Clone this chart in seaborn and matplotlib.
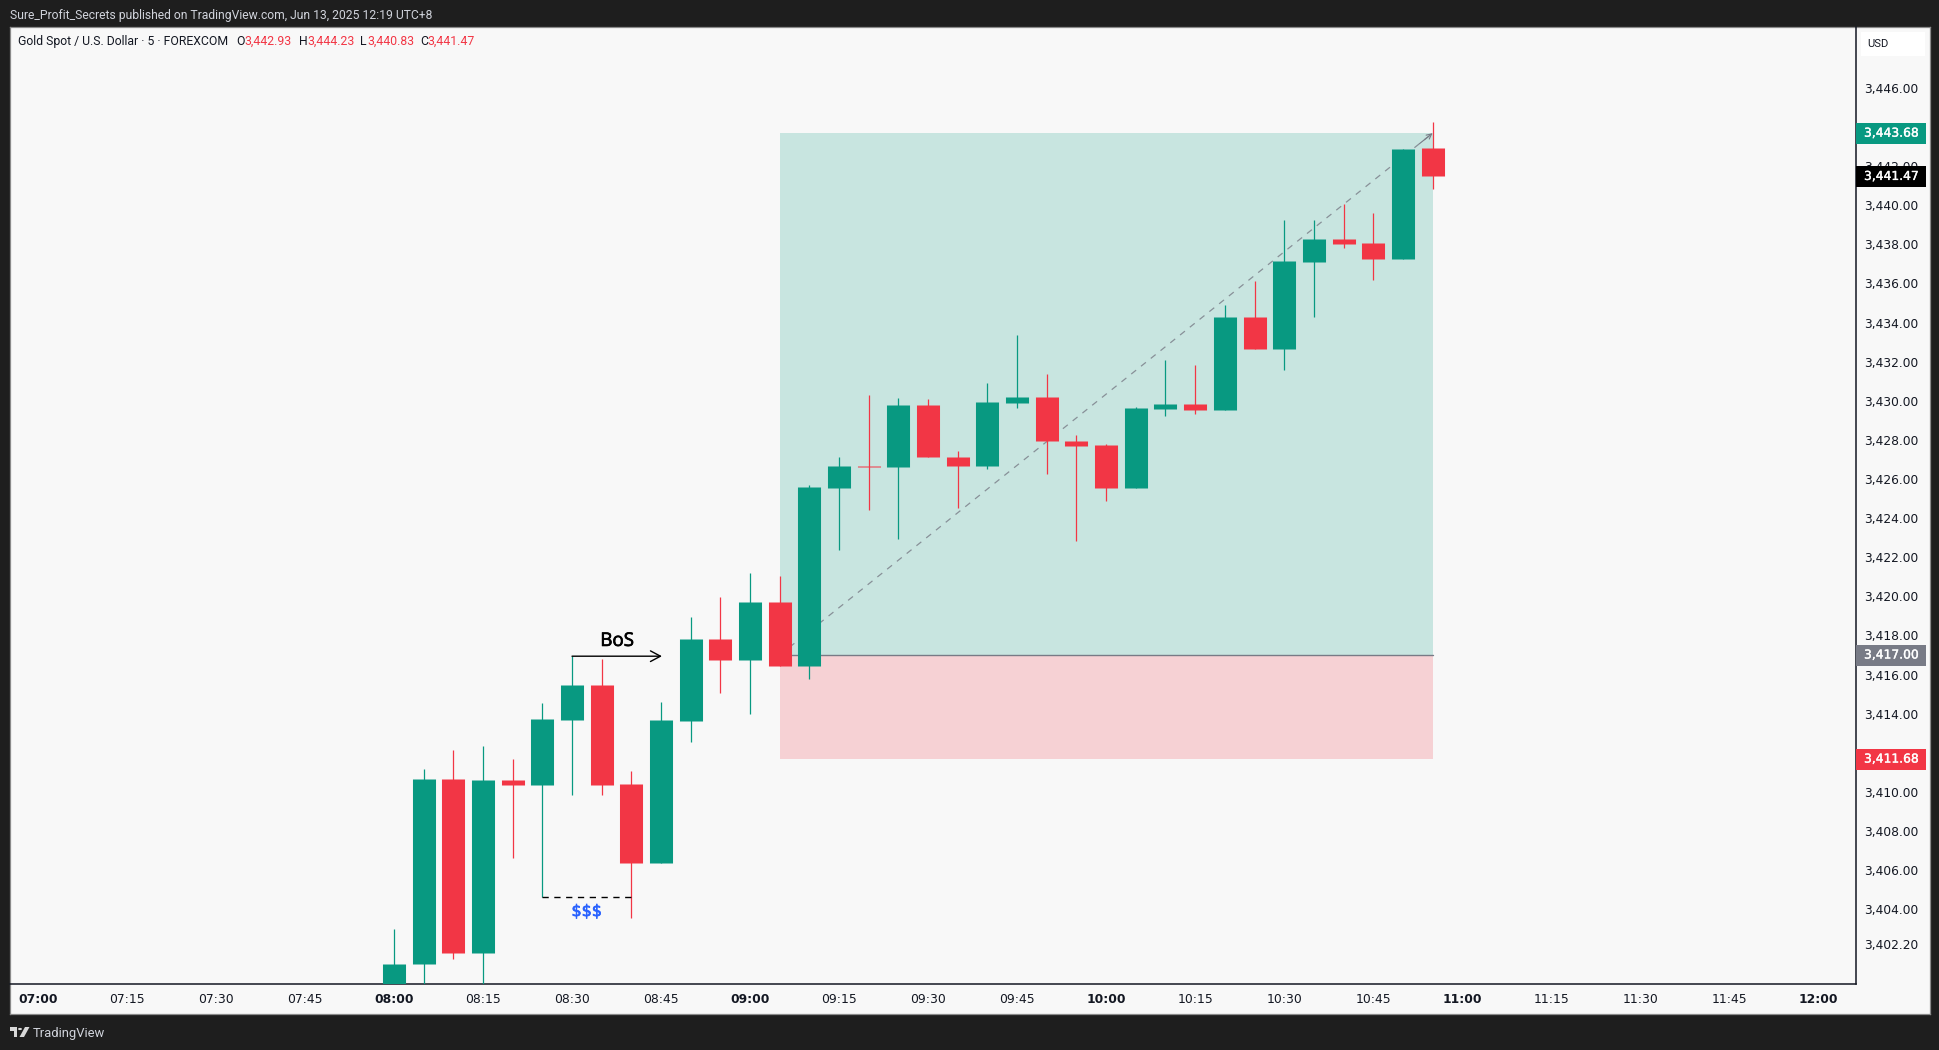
import numpy as np
import pandas as pd
import matplotlib
matplotlib.use('Agg')
import matplotlib.pyplot as plt
import matplotlib.patheffects as pe
from matplotlib.patches import Rectangle, FancyBboxPatch, Polygon, Circle
import seaborn as sns

sns.set_theme(style="white")
plt.rcParams['font.family'] = ['DejaVu Sans']

# candles, one per 5 minutes starting at 08:00
opens = [3399.60, 3401.18, 3410.67, 3401.79, 3410.62, 3410.38, 3413.70, 3415.48, 3410.41, 3406.39,
         3413.65, 3417.83, 3416.77, 3419.72, 3416.42, 3425.55, 3426.67, 3426.59, 3429.79, 3427.13,
         3426.64, 3429.91, 3430.20, 3427.95, 3427.75, 3425.52, 3429.59, 3429.84, 3429.55, 3434.29,
         3432.67, 3437.12, 3438.28, 3438.08, 3437.26, 3442.93]
highs = [3403.00, 3411.18, 3412.15, 3412.36, 3411.69, 3414.56, 3416.94, 3416.81, 3411.06, 3414.59,
         3418.95, 3419.98, 3421.20, 3421.02, 3425.70, 3427.13, 3430.30, 3430.13, 3430.10, 3427.44,
         3430.92, 3433.37, 3431.38, 3428.26, 3427.80, 3429.69, 3432.09, 3431.84, 3434.90, 3436.13,
         3439.25, 3439.25, 3440.07, 3439.61, 3442.89, 3444.23]
lows = [3399.40, 3400.00, 3401.47, 3400.00, 3406.60, 3404.62, 3409.82, 3409.82, 3403.53, 3406.39,
        3412.53, 3415.05, 3414.00, 3416.42, 3415.75, 3422.35, 3424.44, 3422.91, 3427.10, 3424.54,
        3426.49, 3429.61, 3426.23, 3422.81, 3424.90, 3425.52, 3429.20, 3429.33, 3429.55, 3432.67,
        3431.55, 3434.26, 3437.82, 3436.19, 3437.26, 3440.83]
closes = [3401.21, 3410.67, 3401.79, 3410.62, 3410.38, 3413.74, 3415.48, 3410.38, 3406.39, 3413.69,
          3417.83, 3416.77, 3419.72, 3416.42, 3425.60, 3426.67, 3426.62, 3429.79, 3427.10, 3426.64,
          3429.95, 3430.20, 3427.92, 3427.71, 3425.52, 3429.64, 3429.84, 3429.55, 3434.29, 3432.67,
          3437.15, 3438.28, 3438.03, 3437.26, 3442.89, 3441.47]

price_ticks = [3402.20] + [float(v) for v in range(3404, 3448, 2)]
time_positions = [-12, -9, -6, -3, 0, 3, 6, 9, 12, 15, 18, 21, 24, 27, 30, 33, 36, 39, 42, 45, 48]
time_labels = ['07:00', '07:15', '07:30', '07:45', '08:00', '08:15', '08:30', '08:45', '09:00', '09:15',
               '09:30', '09:45', '10:00', '10:15', '10:30', '10:45', '11:00', '11:15', '11:30', '11:45', '12:00']
bold_labels = ['07:00', '08:00', '09:00', '10:00', '11:00', '12:00']

target_price = 3443.68
entry_price = 3417.00
stop_price = 3411.68
last_price = 3441.47
box_start, box_end = 13, 35
bos_price, bos_start, bos_end = 3416.94, 6, 9
sweep_price, sweep_start, sweep_end = 3404.62, 5, 8

GREEN = '#089981'
RED = '#F23645'
BG = '#F8F8F8'
DARK = '#1E1E1E'
W, H = 1940, 1050


def px_rect(x0, y0, x1, y1):
    return [x0 / W, 1 - y1 / H, (x1 - x0) / W, (y1 - y0) / H]


def fig_text(x, y, s, **kw):
    kw.setdefault('va', 'center')
    fig.text(x / W, 1 - y / H, s, **kw)


df = pd.DataFrame({'open': opens, 'high': highs, 'low': lows, 'close': closes})
df['idx'] = range(len(df))
df['dir'] = np.where(df['close'] >= df['open'], 'up', 'down')
palette = {'up': GREEN, 'down': RED}

wicks = df.melt(id_vars=['idx', 'dir'], value_vars=['low', 'high'], value_name='price')
bodies = df.melt(id_vars=['idx', 'dir'], value_vars=['open', 'close'], value_name='price')

fig = plt.figure(figsize=(W / 100, H / 100), dpi=100, facecolor=DARK)

# light panel behind chart and both scales
panel = fig.add_axes(px_rect(10, 27, 1930, 1014), facecolor=BG)
panel.set_xticks([])
panel.set_yticks([])
for s in panel.spines.values():
    s.set_color('#8A8A8A')
    s.set_linewidth(0.9)

ax = fig.add_axes(px_rect(10, 27, 1856, 984), facecolor='none')
ax.set_xlim(-12.94, 49.27)
ax.set_ylim(3400.18, 3449.11)

# position box
ax.axhspan(entry_price, target_price, xmin=(box_start + 12.94) / 62.21, xmax=(box_end + 12.94) / 62.21,
           color=GREEN, alpha=0.2, lw=0, zorder=1)
ax.axhspan(stop_price, entry_price, xmin=(box_start + 12.94) / 62.21, xmax=(box_end + 12.94) / 62.21,
           color=RED, alpha=0.2, lw=0, zorder=1)
ax.plot([box_start, box_end], [entry_price, entry_price], color='#787B86', lw=1, zorder=1.5)
ax.plot([box_start, box_end], [entry_price, target_price], color='#787B86', lw=0.9, alpha=0.8,
        dashes=(5, 5), zorder=1.5)
ax.annotate('', xy=(box_end, target_price), zorder=1.5,
            xytext=(box_end - 0.02 * (box_end - box_start), target_price - 0.02 * (target_price - entry_price)),
            arrowprops=dict(arrowstyle='->,head_length=0.3,head_width=0.15', color='#787B86', lw=0.8,
                            shrinkA=0, shrinkB=0))

sns.lineplot(data=wicks, x='idx', y='price', hue='dir', units='idx', estimator=None, palette=palette,
             sort=False, legend=False, lw=0.9, solid_capstyle='butt', zorder=3, ax=ax)
sns.lineplot(data=bodies, x='idx', y='price', hue='dir', units='idx', estimator=None, palette=palette,
             sort=False, legend=False, lw=16.6, solid_capstyle='butt', zorder=3.5, ax=ax)

# annotations
ax.annotate('', xy=(bos_end + 0.03, bos_price), xytext=(bos_start, bos_price), zorder=4,
            arrowprops=dict(arrowstyle='->,head_length=0.6,head_width=0.32', color='black', lw=1,
                            shrinkA=0, shrinkB=0))
ax.text(7.52, 3417.72, 'BoS', ha='center', va='center', fontsize=13.5, color='black',
        family='Open Sans', zorder=5,
        path_effects=[pe.withStroke(linewidth=0.5, foreground='black')])
ax.plot([sweep_start, sweep_end], [sweep_price, sweep_price], color='black', lw=1, dashes=(4.5, 4), zorder=4)
ax.text(6.5, 3403.88, '$$$', ha='center', va='center', fontsize=11.5, color='#2962FF',
        zorder=5, parse_math=False,
        path_effects=[pe.withStroke(linewidth=0.5, foreground='#2962FF')])

ax.set_xlabel('')
ax.set_ylabel('')
ax.set_xticks(time_positions)
ax.set_xticklabels(time_labels, fontsize=8.9, color='#131722')
for lab in ax.get_xticklabels():
    if lab.get_text() in bold_labels:
        lab.set_fontweight('bold')
ax.tick_params(axis='x', length=0, pad=6.3)

# price labels sit right of the chart, tags cover them from the scale axes
ax.yaxis.tick_right()
ax.set_yticks(price_ticks)
ax.set_yticklabels([f'{p:,.2f}' for p in price_ticks], fontsize=8.85, color='#131722')
ax.tick_params(axis='y', length=0, pad=5.6)
for name in ['top', 'left']:
    ax.spines[name].set_visible(False)
for name in ['right', 'bottom']:
    ax.spines[name].set_color('#131722')
    ax.spines[name].set_linewidth(1.1)

scale = fig.add_axes(px_rect(1856, 27, 1930, 984), facecolor='none')
scale.set_xlim(0, 74)
scale.set_ylim(ax.get_ylim())
scale.axis('off')

tag_h = 21 / 19.56
for price, col in [(target_price, GREEN), (last_price, '#000000'),
                   (entry_price, '#787B86'), (stop_price, RED)]:
    scale.add_patch(Rectangle((0, price - tag_h / 2), 70, tag_h, facecolor=col, edgecolor='none', zorder=5))
    scale.text(8, price, f'{price:,.2f}', color='white', fontsize=8.85, va='center', ha='left', zorder=6,
               path_effects=[pe.withStroke(linewidth=0.25, foreground='white')])

# currency button
fig.add_artist(FancyBboxPatch((1861 / W, 1 - 56 / H), 64 / W, 24 / H, boxstyle='round,pad=0',
                              facecolor='white', edgecolor='white', lw=0, transform=fig.transFigure))
fig_text(1867, 44, 'USD', fontsize=8, color='#131722', family='Roboto')

# header and legend
fig_text(10, 15, 'Sure_Profit_Secrets published on TradingView.com, Jun 13, 2025 12:19 UTC+8',
         fontsize=8.7, color='#D1D4DC', family='Roboto')
fig_text(18, 41.5, 'Gold Spot / U.S. Dollar · 5 · FOREXCOM', fontsize=8.8, color='#131722', family='Roboto')
for x, letter, vx, val in [(236, 'O', 244, opens[-1]), (299, 'H', 307, highs[-1]),
                           (360, 'L', 367, lows[-1]), (420, 'C', 427, closes[-1])]:
    fig_text(x, 41.5, letter, fontsize=8.8, color='#131722', family='Roboto')
    fig_text(vx, 41.5, f'{val:,.2f}', fontsize=8.8, color=RED, family='Roboto')

# footer logo
logo = '#D8D8D8'
fig.add_artist(Polygon([(10 / W, 1 - 1027 / H), (17.5 / W, 1 - 1027 / H), (17.5 / W, 1 - 1037 / H),
                        (14 / W, 1 - 1037 / H), (14 / W, 1 - 1031 / H), (10 / W, 1 - 1031 / H)],
                       closed=True, facecolor=logo, edgecolor='none', transform=fig.transFigure))
fig.add_artist(Circle((20 / W, 1 - 1029 / H), 2 / W, facecolor=logo, edgecolor='none', transform=fig.transFigure))
fig.add_artist(Polygon([(25 / W, 1 - 1027 / H), (29.5 / W, 1 - 1027 / H), (24 / W, 1 - 1037 / H),
                        (19.5 / W, 1 - 1037 / H)],
                       closed=True, facecolor=logo, edgecolor='none', transform=fig.transFigure))
fig_text(33, 1033, 'TradingView', fontsize=9.4, color='#D1D4DC', family='Roboto')

fig.savefig('out.png', dpi=100, facecolor=DARK)
